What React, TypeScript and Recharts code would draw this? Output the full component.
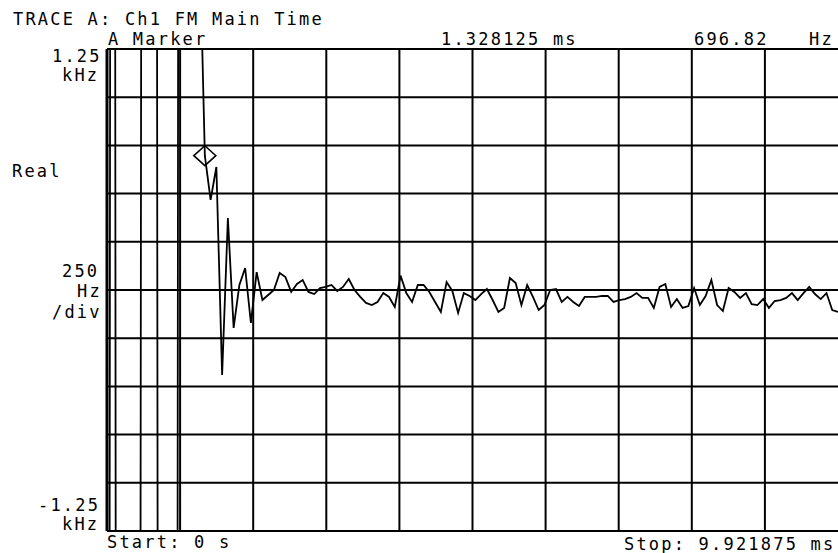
import { LineChart, Line, XAxis, YAxis, ReferenceLine, ReferenceDot } from 'recharts';

// HP-style FM demod time trace, 128 samples at 78.125 us
const SAMPLE_MS = 0.078125;

// Hz per sample (start of record is off-scale both ways)
const traceHz = [
  -15000, 15000, -17000, -20000, -20000, -22000, 3000, 20000,
  20000, -6850, -20000, -20000, -9000, 20000, 20000, 8000,
  1930, 696.82, 467, 638, -441, 373, -197, 26,
  114, -171, 93, -52, -26, 0, 88, 67,
  -10, 31, 52, -10, -21, 10, 16, 26,
  -5, 16, 57, 0, -36, -67, -78, -62,
  -16, -36, -88, 75, -16, -62, 26, 26,
  -10, -62, -114, 41, -5, -119, -16, -31,
  -52, -21, 5, -52, -114, -93, 62, 36,
  -78, 26, -36, -104, -78, 0, 5, -62,
  -36, -62, -83, -36, -36, -36, -31, -31,
  -62, -52, -47, -36, -16, -41, -41, -93,
  16, 31, -88, -47, -93, -83, 10, -78,
  -31, 52, -78, -109, 10, -10, -41, -16,
  -73, -78, -47, -93, -57, -52, -41, -16,
  -52, -16, 16, -21, -47, -16, -104, -114,
];

const timeGridMs = [0, 0.9921875, 1.984375, 2.9765625, 3.96875, 4.9609375, 5.953125, 6.9453125, 7.9375, 8.9296875];
const freqGridHz = [-1250, -1000, -750, -500, -250, 0, 250, 500, 750, 1000, 1250];

const stopMs = 9.921875;
const markerMs = 1.328125;
const markerHz = 696.82;

const data = traceHz.map((hz, i) => ({ t: i * SAMPLE_MS, hz }));

const FONT = '"DejaVu Sans Mono", monospace';

const labels: { text: string; x: number; y: number }[] = [
  { text: 'TRACE A: Ch1 FM Main Time', x: 13, y: 25 },
  { text: 'A Marker', x: 108, y: 45 },
  { text: '1.328125 ms', x: 441, y: 45 },
  { text: '696.82', x: 694, y: 45 },
  { text: 'Hz', x: 809, y: 45 },
  { text: '1.25', x: 52, y: 62 },
  { text: 'kHz', x: 62, y: 81 },
  { text: 'Real', x: 12, y: 177 },
  { text: '250', x: 62, y: 277 },
  { text: 'Hz', x: 77, y: 297 },
  { text: '/div', x: 52, y: 318 },
  { text: '-1.25', x: 38, y: 511 },
  { text: 'kHz', x: 62, y: 530 },
  { text: 'Start: 0 s', x: 107, y: 548 },
  { text: 'Stop: 9.921875 ms', x: 624, y: 550 },
];

const Diamond = (props: any) => {
  const { cx, cy } = props;
  if (cx == null || cy == null) return null;
  return (
    <path
      d={`M${cx - 11},${cy} L${cx},${cy - 10} L${cx + 11},${cy} L${cx},${cy + 10} Z`}
      fill="none"
      stroke="#000"
      strokeWidth={1.5}
    />
  );
};

export default function App() {
  return (
    <div style={{ position: 'fixed', left: 0, top: 0, width: 838, height: 553, overflow: 'hidden', background: '#fff' }}>
      <LineChart width={840} height={553} data={data} margin={{ top: 49, right: 2, bottom: 22, left: 107 }}>
        <XAxis dataKey="t" type="number" domain={[0, stopMs]} hide />
        <YAxis type="number" domain={[-1250, 1250]} allowDataOverflow hide />
        {timeGridMs.map((t, i) => (
          <ReferenceLine key={'v' + t} x={t} stroke="#000" strokeWidth={i === 0 ? 3 : 2} />
        ))}
        {freqGridHz.map((f) => (
          <ReferenceLine key={'h' + f} y={f} stroke="#000" strokeWidth={2} />
        ))}
        <Line
          dataKey="hz"
          type="linear"
          stroke="#000"
          strokeWidth={1.8}
          dot={false}
          isAnimationActive={false}
        />
        <ReferenceDot x={markerMs} y={markerHz} shape={Diamond} />
      </LineChart>
      <svg width={838} height={553} style={{ position: 'absolute', left: 0, top: 0, pointerEvents: 'none' }}>
        {labels.map((l, i) => (
          <text key={i} x={l.x} y={l.y} fontFamily={FONT} fontSize={17} letterSpacing={2.2} fill="#000">
            {l.text}
          </text>
        ))}
      </svg>
    </div>
  );
}
